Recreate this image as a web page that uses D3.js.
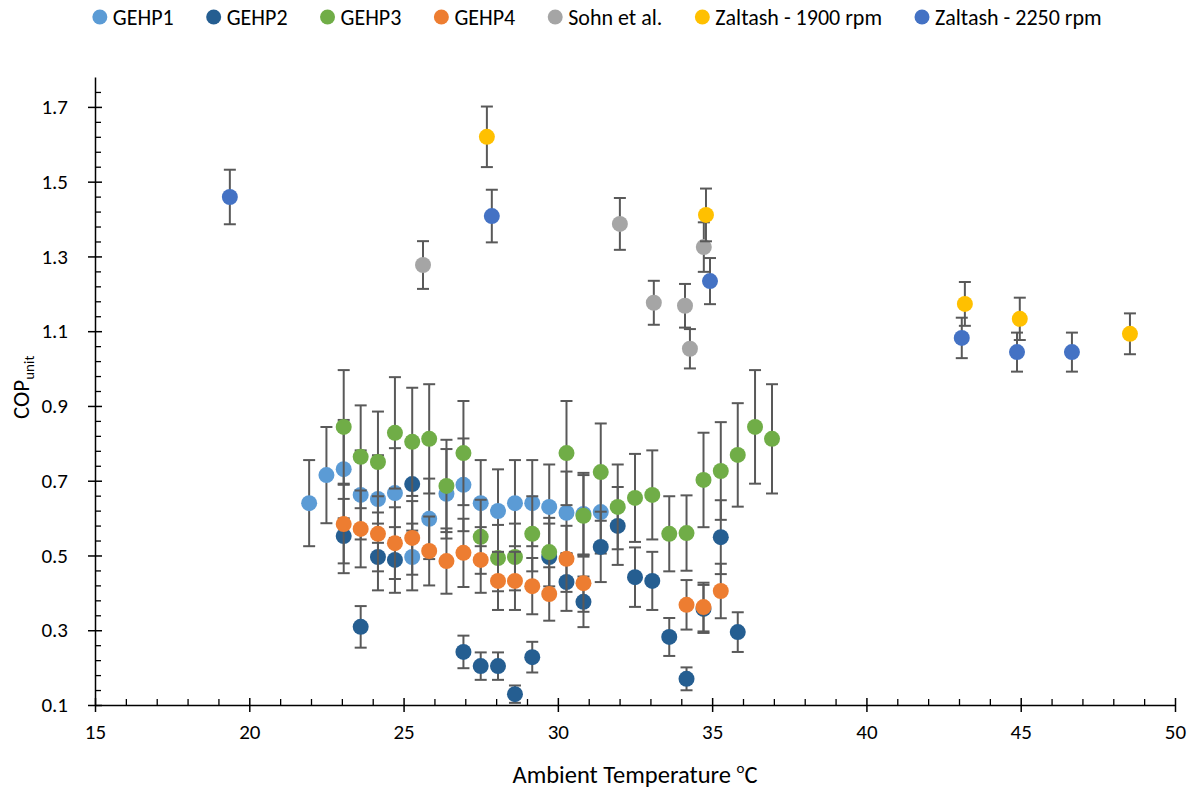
<!DOCTYPE html>
<html>
<head>
<meta charset="utf-8">
<script src="https://cdn.jsdelivr.net/npm/d3@7"></script>
<style>
body { margin: 0; background: #fff; }
text { font-family: Carlito, "Liberation Sans", sans-serif; fill: #000; }
</style>
</head>
<body>
<svg width="1195" height="791"></svg>
<script>
// ambient temperature (C) and COP
var gehp1Temp = [21.94, 22.50, 23.06, 23.61, 24.17, 24.72, 25.28, 25.83, 26.39, 26.94,
                 27.50, 28.06, 28.61, 29.17, 29.72, 30.28, 30.83, 31.39];
var gehp1Cop = [0.640, 0.715, 0.731, 0.662, 0.651, 0.667, 0.496, 0.598, 0.665, 0.689,
                0.640, 0.619, 0.640, 0.640, 0.630, 0.614, 0.611, 0.616];

var gehp2Temp = [23.06, 23.61, 24.17, 24.72, 25.28, 26.94, 27.50, 28.06, 28.61, 29.17, 29.72,
                 30.28, 30.83, 31.39, 31.94, 32.50, 33.06, 33.61, 34.17, 34.72, 35.28, 35.83];
var gehp2Cop = [0.552, 0.309, 0.496, 0.488, 0.691, 0.242, 0.204, 0.204, 0.129, 0.228, 0.496,
                0.429, 0.376, 0.523, 0.579, 0.442, 0.432, 0.282, 0.170, 0.357, 0.549, 0.295];

var gehp3Temp = [23.06, 23.61, 24.17, 24.72, 25.28, 25.83, 26.39, 26.94, 27.50, 28.06, 28.61, 29.17, 29.72,
                 30.28, 30.83, 31.39, 31.94, 32.50, 33.06, 33.61, 34.17, 34.72, 35.28, 35.83, 36.39, 36.94];
var gehp3Cop = [0.844, 0.764, 0.750, 0.828, 0.804, 0.812, 0.686, 0.774, 0.550, 0.493, 0.496, 0.558, 0.509,
                0.774, 0.606, 0.723, 0.630, 0.654, 0.662, 0.558, 0.560, 0.702, 0.726, 0.769, 0.844, 0.812];

var gehp4Temp = [23.06, 23.61, 24.17, 24.72, 25.28, 25.83, 26.39, 26.94, 27.50, 28.06, 28.61,
                 29.17, 29.72, 30.28, 30.83, 34.17, 34.72, 35.28];
var gehp4Cop = [0.584, 0.571, 0.558, 0.533, 0.547, 0.512, 0.485, 0.507, 0.488, 0.432, 0.432,
                0.418, 0.397, 0.491, 0.426, 0.368, 0.362, 0.405];

var sohnTemp = [25.63, 32.01, 33.11, 34.12, 34.28, 34.73];
var sohnCop = [1.277, 1.387, 1.176, 1.168, 1.053, 1.325];

var zal1900Temp = [27.70, 34.80, 43.19, 44.97, 48.54];
var zal1900Cop = [1.620, 1.411, 1.173, 1.133, 1.093];

var zal2250Temp = [19.37, 27.86, 34.93, 43.09, 44.88, 46.66];
var zal2250Cop = [1.459, 1.408, 1.234, 1.082, 1.044, 1.044];

// percentage error bars as set on each series
var gehpErrPct = 0.18;
var refErrPct = 0.05;

var seriesNames = ["GEHP1", "GEHP2", "GEHP3", "GEHP4", "Sohn et al.", "Zaltash - 1900 rpm", "Zaltash - 2250 rpm"];
var xTicks = [15, 20, 25, 30, 35, 40, 45, 50];
var yTicks = [0.1, 0.3, 0.5, 0.7, 0.9, 1.1, 1.3, 1.5, 1.7];

var colors = ["#5B9BD5", "#255E91", "#70AD47", "#ED7D31", "#A5A5A5", "#FFC000", "#4472C4"];
var temps = [gehp1Temp, gehp2Temp, gehp3Temp, gehp4Temp, sohnTemp, zal1900Temp, zal2250Temp];
var cops = [gehp1Cop, gehp2Cop, gehp3Cop, gehp4Cop, sohnCop, zal1900Cop, zal2250Cop];
var errs = [gehpErrPct, gehpErrPct, gehpErrPct, gehpErrPct, refErrPct, refErrPct, refErrPct];

var series = seriesNames.map((name, i) => ({
    name: name,
    color: colors[i],
    err: errs[i],
    points: temps[i].map((t, j) => ({t: t, cop: cops[i][j]}))
}));

var svg = d3.select("svg");
var xScale = d3.scaleLinear().domain([15, 50]).range([95, 1175]);
var yScale = d3.scaleLinear().domain([0.1, 1.78]).range([705, 77]);

// minor ticks first, pointing into the plot
var xMinor = d3.range(16, 50, 1).filter(v => v % 5 != 0);
svg.append("g")
    .attr("transform", `translate(0,${yScale(0.1)})`)
    .call(d3.axisTop(xScale).tickValues(xMinor).tickSize(6).tickFormat(""))
    .call(g => g.select(".domain").remove())
    .selectAll("line").attr("stroke", "#000").attr("stroke-width", 1.3);

var yMinor = d3.range(0, 42).map(i => 0.1 + i * 0.04).filter(v => v < 1.79 && Math.abs(((v - 0.1) / 0.2) - Math.round((v - 0.1) / 0.2)) > 0.01);
svg.append("g")
    .attr("transform", `translate(${xScale(15)},0)`)
    .call(d3.axisRight(yScale).tickValues(yMinor).tickSize(6).tickFormat(""))
    .call(g => g.select(".domain").remove())
    .selectAll("line").attr("stroke", "#000").attr("stroke-width", 1.3);

var xAxis = d3.axisBottom(xScale).tickValues(xTicks).tickSizeOuter(0).tickPadding(13);
svg.append("g")
    .attr("id", "xAxisG")
    .attr("transform", `translate(0,${yScale(0.1)})`)
    .call(xAxis)
    .call(g => g.selectAll(".tick line").attr("y1", -7).attr("y2", 7))
    .call(g => g.selectAll("line, path").attr("stroke", "#000").attr("stroke-width", 1.5))
    .call(g => g.selectAll("text").attr("font-size", 21).attr("font-family", null));

var yAxis = d3.axisLeft(yScale).tickValues(yTicks).tickSizeOuter(0).tickPadding(21)
    .tickFormat(d3.format(".1f"));
svg.append("g")
    .attr("id", "yAxisG")
    .attr("transform", `translate(${xScale(15)},0)`)
    .call(yAxis)
    .call(g => g.selectAll(".tick line").attr("x1", -7).attr("x2", 7))
    .call(g => g.selectAll("line, path").attr("stroke", "#000").attr("stroke-width", 1.5))
    .call(g => g.selectAll("text").attr("font-size", 21).attr("font-family", null));

// error bars and markers, series by series
series.forEach(s => {
    var g = svg.append("g");
    var bars = g.selectAll("g.bar").data(s.points).enter().append("g")
        .attr("class", "bar")
        .attr("stroke", "#595959").attr("stroke-width", 2);
    bars.append("line")
        .attr("x1", d => xScale(d.t)).attr("x2", d => xScale(d.t))
        .attr("y1", d => yScale(d.cop * (1 + s.err)))
        .attr("y2", d => yScale(d.cop * (1 - s.err)));
    bars.append("line")
        .attr("x1", d => xScale(d.t) - 6).attr("x2", d => xScale(d.t) + 6)
        .attr("y1", d => yScale(d.cop * (1 + s.err)))
        .attr("y2", d => yScale(d.cop * (1 + s.err)));
    bars.append("line")
        .attr("x1", d => xScale(d.t) - 6).attr("x2", d => xScale(d.t) + 6)
        .attr("y1", d => yScale(d.cop * (1 - s.err)))
        .attr("y2", d => yScale(d.cop * (1 - s.err)));
    g.selectAll("circle")
        .data(s.points).enter().append("circle")
        .attr("r", 8)
        .attr("cx", d => xScale(d.t))
        .attr("cy", d => yScale(d.cop))
        .style("fill", s.color);
});

// axis titles
var yTitle = svg.append("text")
    .attr("transform", `translate(29,${yScale(0.95)}) rotate(-90)`)
    .attr("text-anchor", "middle")
    .attr("font-size", 23);
yTitle.append("tspan").text("COP");
yTitle.append("tspan").attr("font-size", 15).attr("dy", 5).text("unit");

var xTitle = svg.append("text")
    .attr("x", (xScale(15) + xScale(50)) / 2)
    .attr("y", 783)
    .attr("text-anchor", "middle")
    .attr("font-size", 24.5);
xTitle.append("tspan").text("Ambient Temperature ");
xTitle.append("tspan").attr("font-size", 15).attr("dy", -10).text("o");
xTitle.append("tspan").attr("dy", 10).text("C");

// legend, centred across the top
var legend = svg.append("g").attr("transform", "translate(0,17)");
var items = legend.selectAll("g").data(series).enter().append("g");
items.append("circle").attr("r", 7.5).attr("cx", 0).attr("cy", 0).style("fill", d => d.color);
items.append("text").attr("x", 13).attr("y", 7.5).attr("font-size", 22).text(d => d.name);
var gap = 40, pos = 0, offsets = [];
items.each(function() {
    offsets.push(pos);
    pos += 13 + this.querySelector("text").getComputedTextLength() + gap;
});
var total = pos - gap + 7.5;
var start = 597 - total / 2 + 7.5;
items.attr("transform", (d, i) => `translate(${start + offsets[i]},0)`);
</script>
</body>
</html>
